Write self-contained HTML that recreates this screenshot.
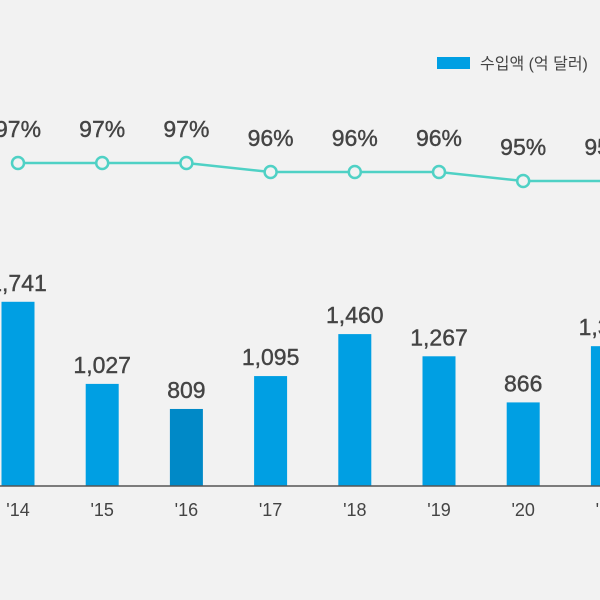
<!DOCTYPE html>
<html><head><meta charset="utf-8"><style>
body{margin:0;background:#f2f2f2;}
svg{display:block;font-family:"Liberation Sans","Noto Sans CJK KR",sans-serif;}
</style></head><body>
<svg width="600" height="600">
<rect width="600" height="600" fill="#f2f2f2"/>
<g>
<rect x="437" y="57" width="33" height="12" fill="#009fe3"/>
<text x="480" y="69" font-size="16" fill="#444">수입액 (억 달러)</text>
</g>
<g id="bars"></g>
<line x1="0" x2="600" y1="486" y2="486" stroke="#555" stroke-width="1.5"/>
<g id="line"></g>
</svg>
<script>
const categories=["'14","'15","'16","'17","'18","'19","'20","'21"];
const importValues=[1741,1027,809,1095,1460,1267,866,1355];
const shareValues=[97,97,97,96,96,96,95,95];
const svg=document.querySelector('svg');
const NS='http://www.w3.org/2000/svg';
function xPos(i){return 18+i*84.2;}
function barH(v){return 0.115*v-16;}
function yLine(p){return 163+(97-p)*9;}
function mk(t,a,txt){const e=document.createElementNS(NS,t);for(const k in a)e.setAttribute(k,a[k]);if(txt!==undefined)e.textContent=txt;return e;}
const bg=document.getElementById('bars'),lg=document.getElementById('line');
categories.forEach((c,i)=>{
 const x=xPos(i),h=barH(importValues[i]);
 const r=mk('rect',{x:x-16.5,y:486-h,width:33,height:h,fill:i==2?'#0089c7':'#009fe3'});
 
 
 bg.appendChild(r);
 const t=mk('text',{x:x,y:486-h-11,'font-size':23,'text-anchor':'middle',fill:'#444','stroke':'#444','stroke-width':0.4},importValues[i].toLocaleString('en-US'));
 
 
 bg.appendChild(t);
 const l=mk('text',{x:x,y:516,'font-size':18,'text-anchor':'middle',fill:'#444'},c);
 
 
 bg.appendChild(l);
});
const pts=shareValues.map((p,i)=>xPos(i)+','+yLine(p)).join(' ');
const pl=mk('polyline',{points:pts,fill:'none',stroke:'#4fd1c5','stroke-width':2.5});


lg.appendChild(pl);
shareValues.forEach((p,i)=>{
 const c=mk('circle',{cx:xPos(i),cy:yLine(p),r:6,fill:'#f2f2f2',stroke:'#4fd1c5','stroke-width':2.5});
 
 
 lg.appendChild(c);
 const t=mk('text',{x:xPos(i),y:yLine(p)-26,'font-size':23,'text-anchor':'middle',fill:'#444','stroke':'#444','stroke-width':0.4},p+'%');
 
 
 lg.appendChild(t);
});
</script>
</body></html>
